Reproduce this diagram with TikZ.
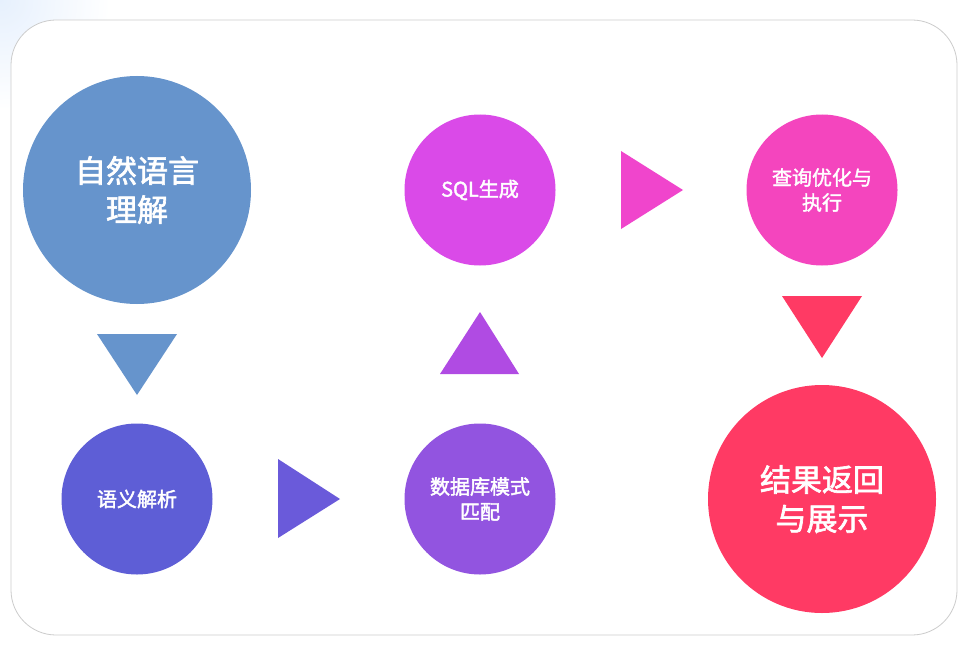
\documentclass[tikz,border=0pt]{standalone}
\usepackage{fontspec}
\newfontfamily\cjk{Noto Sans CJK SC}[FakeBold=2]
\usetikzlibrary{positioning}
\definecolor{nluBlue}{HTML}{6694CC}
\definecolor{semIndigo}{HTML}{5E5ED6}
\definecolor{arrIndigo}{HTML}{6A5ADA}
\definecolor{schemaPurple}{HTML}{9254E0}
\definecolor{arrPurple}{HTML}{B04BE3}
\definecolor{sqlMagenta}{HTML}{DA4AE8}
\definecolor{arrMagenta}{HTML}{F045CC}
\definecolor{optPink}{HTML}{F445BE}
\definecolor{resRed}{HTML}{FF3A64}
\definecolor{frameGray}{HTML}{CCCCCC}
\definecolor{cornerBlue}{HTML}{E6F0FD}

\begin{document}
\begin{tikzpicture}[
  x=1pt, y=-1pt,
  bigstage/.style={circle, fill=#1, minimum size=228pt, inner sep=0pt, align=center, text=white, font=\cjk\fontsize{31}{39}\selectfont},
  smallstage/.style={circle, fill=#1, minimum size=151pt, inner sep=0pt, align=center, text=white, font=\cjk\fontsize{20}{25}\selectfont},
  pointer/.style={fill=#1}
]
% Background and frame
\useasboundingbox (0,0) rectangle (976,658);
\fill[white] (0,0) rectangle (976,658);
\shade[inner color=cornerBlue, outer color=white] (0,0) circle (110);
\draw[frameGray, line width=0.8pt, fill=white, rounded corners=45pt] (11,20) rectangle (957,635);

% Stage nodes
\node[bigstage=nluBlue] (nlu) at (137,190) {自然语言\\理解};
\node[smallstage=semIndigo] (semantic) at (137,499) {语义解析};
\node[smallstage=schemaPurple] (schema) at (480,499) {数据库模式\\匹配};
\node[smallstage=sqlMagenta] (sqlgen) at (480,190) {SQL生成};
\node[smallstage=optPink] (optimize) at (822,190) {查询优化与\\执行};
\node[bigstage=resRed] (result) at (822,499) {结果返回\\与展示};

% Triangle pointers between stages
\fill[pointer=nluBlue] (97,334) -- (177,334) -- (137,395) -- cycle;
\fill[pointer=arrIndigo] (278,459) -- (278,538) -- (340,499) -- cycle;
\fill[pointer=arrPurple] (440,374) -- (519,374) -- (480,312) -- cycle;
\fill[pointer=arrMagenta] (621,151) -- (621,229) -- (683,190) -- cycle;
\fill[pointer=resRed] (782,296) -- (862,296) -- (822,358) -- cycle;

\end{tikzpicture}
\end{document}
